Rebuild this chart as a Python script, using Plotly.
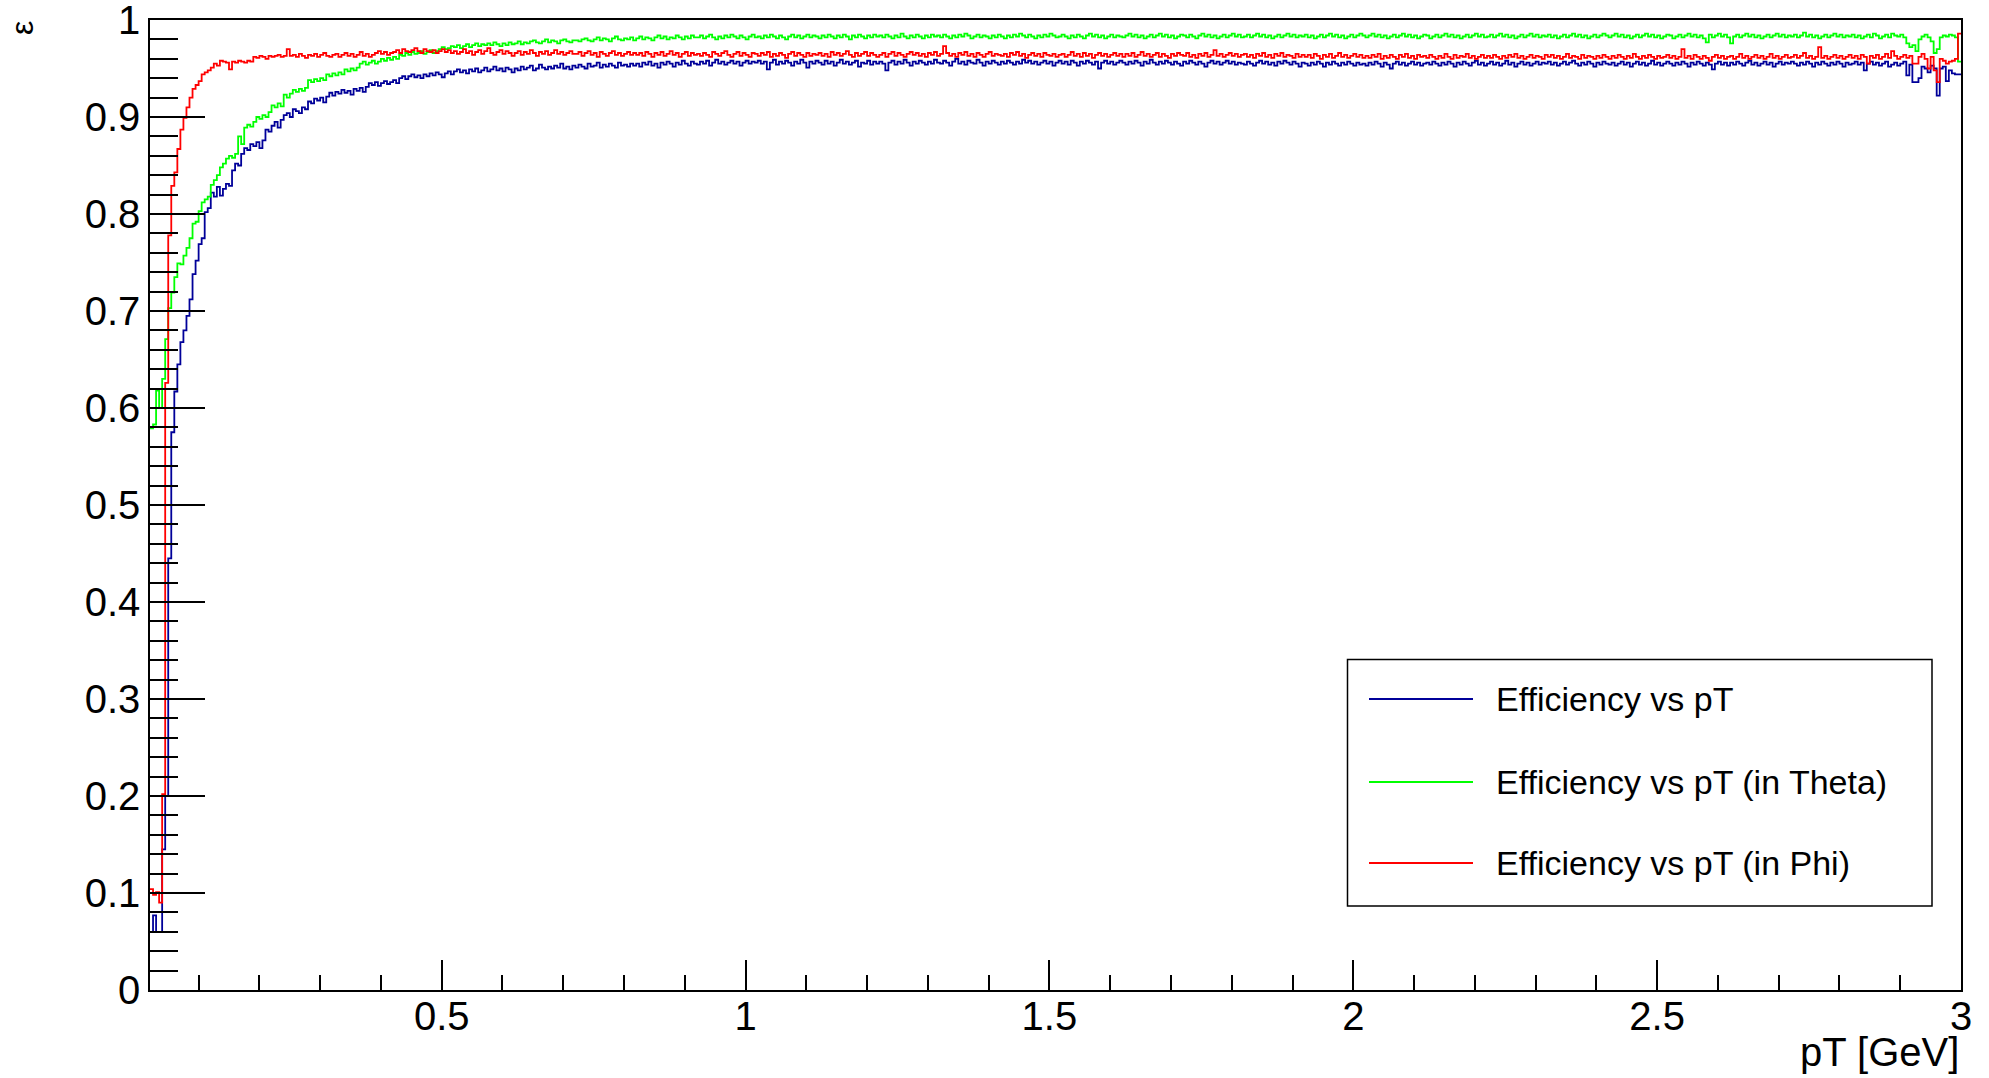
import numpy as np
import plotly.graph_objects as go

# ---------------- data ----------------
PT_MIN = 0.02          # low edge of first bin [GeV]
BIN_WIDTH = 0.005      # bin width [GeV]

# efficiencies in units of 1/1000, one value per bin (rows = 0.1 GeV)
eff_pt_blue = [
    60, 77, 60, 60, 145, 200, 445, 575, 617, 645, 668, 680, 695, 712, 738, 752, 769, 775, 802, 806,
    822, 818, 828, 819, 826, 831, 829, 845, 852, 850, 862, 868, 866, 872, 870, 874, 868, 876, 887, 885,
    891, 895, 889, 897, 902, 904, 900, 908, 906, 904, 910, 908, 916, 914, 919, 917, 920, 915, 921, 925,
    922, 926, 924, 928, 925, 927, 923, 929, 927, 930, 926, 931, 935, 933, 936, 932, 935, 937, 934, 936,
    938, 935, 940, 942, 939, 942, 944, 941, 943, 940, 944, 942, 945, 943, 946, 944, 941, 945, 947, 944,
    947, 949, 946, 948, 945, 949, 947, 950, 946, 948, 951, 947, 949, 952, 948, 950, 947, 951, 949, 946,
    950, 948, 952, 949, 951, 953, 948, 950, 954, 951, 949, 952, 950, 953, 951, 955, 950, 952, 949, 953,
    951, 954, 952, 950, 955, 952, 953, 956, 951, 954, 952, 955, 953, 951, 956, 953, 954, 952, 955, 953,
    955, 952, 956, 954, 957, 953, 955, 951, 956, 954, 957, 955, 952, 956, 954, 958, 955, 953, 957, 955,
    954, 957, 955, 958, 953, 956, 959, 955, 957, 954, 956, 958, 955, 957, 953, 956, 958, 955, 957, 956,
    958, 955, 957, 949, 956, 959, 954, 957, 955, 958, 956, 953, 957, 955, 959, 956, 951, 957, 955, 958,
    956, 954, 958, 955, 957, 953, 956, 959, 955, 957, 954, 956, 958, 952, 956, 955, 958, 954, 957, 955,
    957, 955, 948, 956, 958, 954, 957, 955, 959, 956, 953, 957, 955, 958, 956, 954, 957, 955, 959, 956,
    955, 958, 956, 953, 957, 960, 955, 957, 954, 958, 956, 955, 959, 956, 953, 957, 955, 958, 956, 954,
    957, 955, 958, 956, 954, 957, 955, 959, 956, 958, 955, 957, 954, 956, 958, 955, 957, 953, 956, 958,
    955, 957, 954, 958, 956, 953, 957, 955, 958, 956, 954, 957, 950, 956, 958, 955, 957, 954, 956, 958,
    956, 954, 957, 955, 958, 956, 953, 957, 955, 959, 956, 954, 957, 955, 958, 956, 954, 957, 955, 953,
    957, 955, 958, 956, 954, 957, 955, 952, 956, 958, 955, 957, 954, 956, 958, 955, 957, 954, 956, 955,
    954, 957, 955, 953, 956, 958, 955, 957, 954, 956, 953, 957, 955, 958, 956, 954, 957, 955, 952, 956,
    955, 953, 956, 954, 957, 955, 952, 956, 954, 957, 955, 953, 956, 954, 957, 955, 953, 956, 954, 955,
    953, 956, 954, 957, 955, 952, 956, 954, 950, 955, 957, 954, 956, 953, 955, 957, 954, 956, 953, 955,
    956, 954, 957, 955, 953, 956, 954, 957, 955, 952, 956, 954, 957, 955, 953, 956, 958, 954, 956, 953,
    955, 957, 954, 956, 953, 955, 958, 954, 956, 952, 955, 957, 954, 956, 953, 955, 957, 954, 956, 955,
    957, 954, 956, 953, 955, 957, 954, 956, 958, 955, 953, 956, 954, 957, 955, 952, 956, 954, 957, 955,
    954, 956, 953, 955, 957, 954, 956, 952, 955, 957, 954, 956, 953, 955, 958, 954, 956, 953, 955, 957,
    955, 953, 956, 954, 957, 955, 952, 956, 954, 957, 955, 953, 956, 954, 949, 955, 957, 954, 956, 953,
    956, 954, 957, 955, 953, 956, 958, 954, 956, 953, 955, 957, 954, 956, 952, 955, 957, 954, 956, 955,
    957, 955, 953, 956, 954, 957, 955, 952, 956, 954, 957, 955, 953, 956, 954, 957, 955, 952, 956, 954,
    955, 957, 954, 956, 948, 955, 957, 954, 956, 953, 955, 957, 952, 954, 956, 953, 955, 957, 943, 954,
    936, 936, 940, 952, 950, 946, 953, 950, 922, 950, 952, 937, 948, 945, 944, 944,
]

eff_pt_theta_green = [
    579, 583, 618, 600, 630, 671, 703, 719, 735, 749, 748, 757, 765, 775, 790, 792, 803, 812, 815, 818,
    830, 835, 840, 848, 852, 857, 860, 858, 862, 880, 872, 889, 892, 890, 895, 900, 898, 902, 900, 905,
    912, 910, 914, 911, 923, 920, 924, 928, 926, 929, 927, 930, 938, 936, 939, 937, 940, 938, 944, 942,
    945, 943, 946, 944, 949, 947, 950, 948, 951, 955, 957, 954, 956, 958, 955, 957, 960, 958, 961, 959,
    962, 960, 964, 963, 966, 964, 967, 965, 966, 968, 965, 967, 969, 966, 968, 970, 972, 970, 971, 973,
    972, 974, 971, 973, 975, 972, 974, 976, 973, 975, 974, 976, 974, 977, 975, 973, 976, 974, 977, 975,
    976, 978, 975, 977, 976, 978, 979, 977, 976, 978, 980, 977, 979, 978, 976, 979, 980, 978, 977, 979,
    979, 978, 980, 981, 979, 978, 980, 982, 979, 981, 980, 978, 981, 983, 980, 979, 981, 980, 982, 979,
    981, 983, 980, 982, 981, 979, 982, 984, 981, 983, 980, 982, 981, 984, 982, 980, 983, 981, 984, 982,
    982, 984, 981, 983, 985, 982, 980, 983, 981, 984, 982, 985, 983, 981, 984, 982, 980, 983, 985, 982,
    983, 981, 984, 982, 985, 983, 981, 984, 982, 980, 983, 985, 982, 984, 981, 983, 985, 982, 984, 983,
    981, 984, 982, 985, 983, 981, 984, 982, 985, 983, 980, 984, 982, 985, 983, 981, 984, 982, 985, 983,
    984, 982, 985, 983, 981, 984, 982, 986, 983, 981, 984, 982, 985, 983, 981, 984, 982, 985, 983, 984,
    982, 985, 983, 981, 984, 982, 985, 983, 986, 984, 981, 983, 985, 982, 984, 983, 981, 984, 982, 985,
    983, 981, 984, 982, 985, 983, 986, 984, 982, 985, 983, 981, 984, 982, 985, 983, 986, 984, 982, 983,
    985, 983, 981, 984, 982, 985, 983, 981, 984, 986, 983, 985, 982, 984, 981, 983, 985, 982, 984, 983,
    982, 984, 986, 983, 985, 982, 984, 981, 983, 985, 982, 984, 986, 983, 985, 982, 984, 981, 983, 985,
    984, 982, 985, 983, 981, 984, 986, 983, 985, 982, 984, 981, 983, 985, 982, 984, 986, 983, 985, 982,
    983, 985, 982, 984, 986, 983, 985, 982, 984, 981, 983, 985, 982, 984, 986, 983, 985, 982, 984, 983,
    985, 982, 984, 981, 983, 985, 982, 984, 986, 983, 985, 982, 984, 981, 983, 985, 982, 984, 986, 984,
    982, 984, 986, 983, 985, 982, 984, 981, 983, 985, 982, 984, 986, 983, 985, 982, 984, 981, 983, 985,
    984, 981, 983, 985, 982, 984, 986, 983, 985, 982, 984, 981, 983, 985, 982, 984, 986, 983, 985, 982,
    983, 985, 982, 984, 986, 983, 985, 982, 984, 981, 983, 985, 982, 984, 986, 983, 985, 982, 984, 983,
    985, 982, 984, 981, 983, 985, 982, 984, 986, 983, 985, 982, 984, 981, 983, 985, 982, 984, 986, 984,
    982, 984, 986, 983, 985, 982, 984, 981, 983, 985, 982, 984, 986, 983, 985, 982, 984, 981, 983, 985,
    984, 981, 983, 985, 982, 984, 986, 983, 985, 982, 984, 981, 977, 985, 982, 984, 986, 983, 985, 982,
    976, 983, 985, 982, 984, 986, 983, 985, 982, 984, 981, 983, 985, 982, 984, 986, 983, 985, 982, 984,
    983, 985, 982, 984, 987, 983, 985, 982, 984, 981, 983, 985, 982, 984, 986, 983, 985, 982, 984, 983,
    985, 982, 984, 981, 983, 985, 982, 986, 984, 981, 983, 985, 982, 986, 984, 983, 985, 982, 976, 972,
    974, 968, 980, 983, 985, 982, 978, 966, 970, 982, 984, 983, 985, 984, 982, 957,
]

eff_pt_phi_red = [
    104, 98, 101, 90, 202, 626, 778, 829, 843, 867, 887, 899, 910, 920, 929, 933, 937, 944, 946, 948,
    951, 955, 953, 958, 957, 956, 949, 957, 956, 958, 957, 956, 958, 957, 962, 961, 963, 962, 960, 963,
    962, 963, 964, 962, 963, 970, 963, 964, 962, 965, 963, 961, 964, 963, 965, 962, 964, 966, 963, 962,
    964, 965, 962, 964, 966, 963, 965, 962, 964, 967, 963, 965, 962, 964, 966, 968, 965, 967, 964, 966,
    967, 969, 966, 970, 968, 967, 969, 971, 968, 966, 970, 968, 967, 969, 966, 968, 970, 967, 969, 966,
    968, 965, 967, 970, 966, 968, 964, 967, 969, 965, 968, 971, 966, 964, 967, 969, 965, 968, 966, 963,
    966, 968, 964, 967, 965, 969, 966, 963, 967, 965, 968, 964, 966, 969, 965, 967, 964, 966, 968, 965,
    965, 967, 963, 966, 968, 964, 966, 962, 967, 965, 963, 966, 968, 964, 966, 963, 965, 967, 964, 966,
    964, 966, 963, 967, 965, 962, 966, 964, 967, 963, 965, 968, 964, 966, 962, 965, 967, 963, 966, 964,
    965, 963, 966, 964, 962, 967, 965, 963, 966, 968, 964, 962, 965, 967, 963, 966, 964, 962, 966, 965,
    963, 966, 964, 967, 962, 965, 963, 966, 964, 961, 965, 967, 963, 966, 964, 962, 966, 963, 965, 964,
    966, 963, 965, 962, 967, 964, 966, 963, 965, 968, 964, 962, 966, 963, 965, 967, 963, 966, 964, 962,
    964, 966, 962, 965, 967, 963, 966, 964, 962, 965, 967, 964, 966, 963, 965, 962, 966, 964, 967, 963,
    965, 973, 966, 963, 965, 962, 966, 964, 967, 963, 965, 962, 966, 964, 962, 965, 967, 963, 965, 964,
    963, 965, 962, 966, 964, 967, 963, 965, 961, 964, 966, 963, 965, 962, 966, 964, 963, 965, 962, 964,
    965, 962, 964, 967, 963, 965, 962, 966, 963, 965, 961, 964, 966, 963, 965, 962, 964, 966, 963, 965,
    962, 965, 963, 966, 962, 964, 967, 963, 965, 962, 964, 966, 962, 965, 963, 961, 965, 963, 966, 964,
    963, 966, 962, 964, 961, 965, 963, 966, 962, 964, 969, 963, 965, 962, 964, 966, 963, 965, 962, 964,
    965, 962, 964, 961, 965, 963, 966, 962, 964, 961, 965, 963, 966, 962, 964, 963, 961, 965, 962, 964,
    962, 964, 961, 965, 963, 960, 964, 962, 965, 961, 963, 966, 962, 964, 961, 963, 965, 962, 964, 961,
    963, 961, 964, 962, 965, 960, 963, 961, 964, 962, 960, 964, 962, 965, 961, 963, 960, 964, 962, 963,
    961, 964, 962, 960, 963, 961, 965, 962, 960, 964, 961, 963, 962, 965, 961, 963, 960, 962, 964, 961,
    963, 961, 964, 962, 960, 963, 961, 964, 962, 965, 961, 963, 960, 962, 964, 961, 963, 962, 960, 964,
    962, 964, 961, 963, 960, 962, 965, 961, 963, 962, 960, 964, 961, 963, 962, 960, 963, 961, 964, 962,
    960, 963, 961, 964, 962, 960, 963, 961, 965, 962, 960, 963, 961, 964, 962, 960, 963, 961, 962, 964,
    961, 963, 960, 962, 970, 961, 963, 960, 964, 962, 960, 963, 961, 958, 962, 964, 961, 963, 960, 962,
    963, 960, 962, 965, 961, 963, 960, 962, 964, 961, 963, 960, 962, 965, 961, 963, 960, 962, 964, 961,
    962, 964, 961, 963, 966, 961, 963, 960, 962, 972, 961, 963, 960, 962, 964, 961, 963, 960, 962, 964,
    961, 963, 960, 964, 962, 955, 963, 961, 964, 960, 962, 965, 961, 968, 963, 960, 962, 964, 961, 963,
    955, 955, 962, 965, 960, 950, 962, 948, 936, 960, 958, 955, 957, 958, 960, 986,
]

series_names = ["Efficiency vs pT", "Efficiency vs pT (in Theta)", "Efficiency vs pT (in Phi)"]
series_colors = ["#000099", "#00ff00", "#ff0000"]
series_values = [eff_pt_blue, eff_pt_theta_green, eff_pt_phi_red]

x_ticks = [0.5, 1, 1.5, 2, 2.5, 3]
y_ticks = [0, 0.1, 0.2, 0.3, 0.4, 0.5, 0.6, 0.7, 0.8, 0.9, 1]

assert len(eff_pt_blue) == len(eff_pt_theta_green) == len(eff_pt_phi_red), (
    len(eff_pt_blue), len(eff_pt_theta_green), len(eff_pt_phi_red))

# ---------------- figure ----------------
W, H = 1989, 1078
L, R, T, B = 150, 28, 20, 88
FONT = "Liberation Sans, Arial, Helvetica, sans-serif"


def px_x(p):
    return (p - L) / (W - L - R)


def px_y(p):
    return (H - B - p) / (H - T - B)


fig = go.Figure()
n_bins = len(eff_pt_blue)
edges = PT_MIN + BIN_WIDTH * np.arange(n_bins + 1)
for name, color, vals in zip(series_names, series_colors, series_values):
    v = np.asarray(vals, dtype=float) / 1000.0
    fig.add_trace(go.Scatter(
        x=edges, y=np.append(v, v[-1]), mode="lines", name=name,
        line=dict(color=color, width=1.8, shape="hv"), showlegend=False,
    ))

axis_common = dict(
    showgrid=False, zeroline=False, showline=True, linecolor="black", linewidth=1.5,
    mirror=True, ticks="inside", tickcolor="black", tickwidth=1.5,
    tickfont=dict(family=FONT, size=40, color="black"),
    ticklabeloverflow="allow", automargin=False,
)
fig.update_xaxes(
    range=[PT_MIN, 3.0], tickmode="array", tickvals=x_ticks,
    ticktext=[f"{t:g}" for t in x_ticks], ticklen=30, ticklabelstandoff=-10,
    minor=dict(ticks="inside", ticklen=15, dtick=0.1, tick0=0, tickcolor="black", tickwidth=1.5, showgrid=False),
    **axis_common,
)
fig.update_yaxes(
    range=[0, 1], tickmode="array", tickvals=y_ticks,
    ticktext=[f"{t:g}" for t in y_ticks], ticklen=55,
    minor=dict(ticks="inside", ticklen=28, dtick=0.02, tick0=0, tickcolor="black", tickwidth=1.5, showgrid=False),
    **axis_common,
)

annotations = [
    dict(text="pT [GeV]", x=1.0, y=px_y(1052), xref="paper", yref="paper",
         xanchor="right", yanchor="middle", showarrow=False,
         font=dict(family=FONT, size=40, color="black")),
    dict(text="ε", x=px_x(22), y=px_y(28), xref="paper", yref="paper",
         xanchor="center", yanchor="middle", showarrow=False, textangle=-90,
         font=dict(family=FONT, size=32, color="black")),
]

# legend box drawn like the ROOT TLegend
shapes = [dict(type="rect", xref="paper", yref="paper",
               x0=px_x(1347.5), x1=px_x(1932), y0=px_y(906), y1=px_y(659.5),
               line=dict(color="black", width=1.5), fillcolor="white", layer="above")]
row_y = [699, 782, 863]
for name, color, ry in zip(series_names, series_colors, row_y):
    shapes.append(dict(type="line", xref="paper", yref="paper",
                       x0=px_x(1369), x1=px_x(1473), y0=px_y(ry), y1=px_y(ry),
                       line=dict(color=color, width=2), layer="above"))
    annotations.append(dict(text=name, x=px_x(1494), y=px_y(ry), xref="paper", yref="paper",
                            xanchor="left", yanchor="middle", showarrow=False,
                            font=dict(family=FONT, size=34, color="black")))

fig.update_layout(
    width=W, height=H, autosize=False,
    margin=dict(l=L, r=R, t=T, b=B, pad=0, autoexpand=False),
    paper_bgcolor="white", plot_bgcolor="white",
    showlegend=False, shapes=shapes, annotations=annotations,
    font=dict(family=FONT, color="black"),
)

fig.write_html("out.html", config={"displayModeBar": False},
               post_script="document.body.style.margin='0';")
